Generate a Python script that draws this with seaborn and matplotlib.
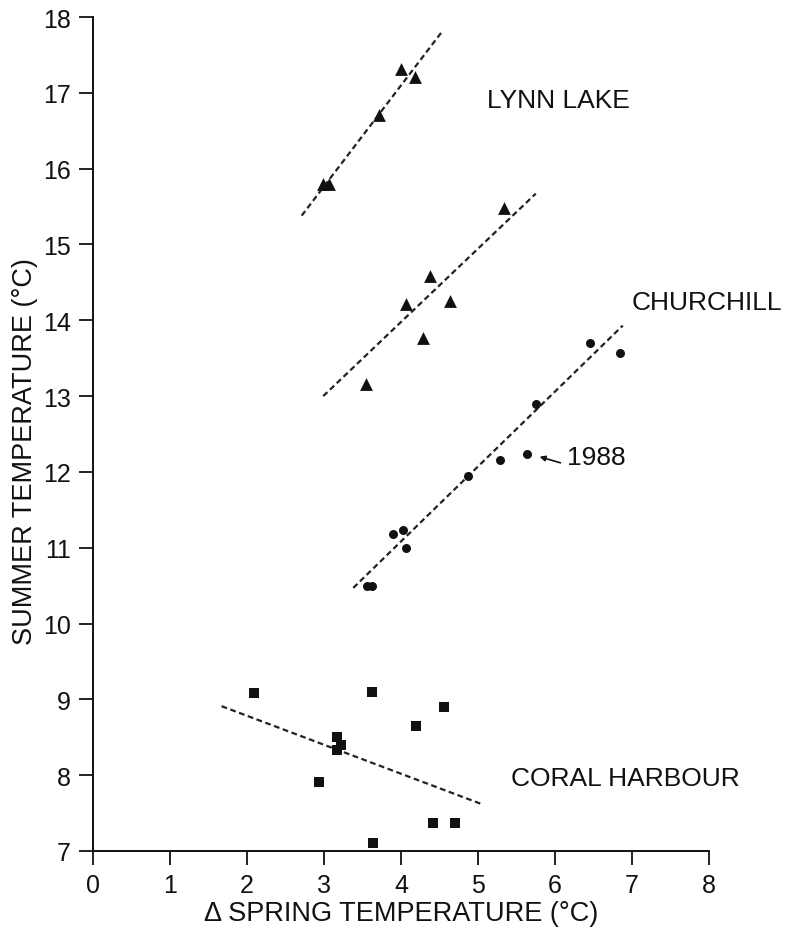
import numpy as np
import pandas as pd
import seaborn as sns
import matplotlib
matplotlib.use("Agg")
import matplotlib.pyplot as plt

# ---- data ----
lynn_x = [4.00, 4.18, 3.72, 2.99, 3.06]
lynn_y = [17.31, 17.21, 16.71, 15.80, 15.80]
mid_x = [5.34, 4.38, 4.06, 4.64, 4.29, 3.55]
mid_y = [15.48, 14.58, 14.21, 14.26, 13.76, 13.16]
church_x = [6.46, 6.85, 5.75, 5.28, 5.64, 4.87, 3.89, 4.02, 4.06, 3.56, 3.62]
church_y = [13.70, 13.57, 12.89, 12.16, 12.24, 11.95, 11.18, 11.23, 10.99, 10.49, 10.49]
coral_x = [2.09, 3.62, 4.56, 4.19, 3.17, 3.22, 3.17, 2.94, 4.41, 4.70, 3.63]
coral_y = [9.08, 9.10, 8.90, 8.65, 8.50, 8.40, 8.33, 7.91, 7.37, 7.37, 7.11]

# regression line end points
lynn_line_x = [2.71, 4.52]
lynn_line_y = [15.38, 17.79]
mid_line_x = [2.99, 5.75]
mid_line_y = [13.00, 15.67]
church_line_x = [3.38, 6.88]
church_line_y = [10.47, 13.93]
coral_line_x = [1.67, 5.07]
coral_line_y = [8.91, 7.61]

x_ticks = [0, 1, 2, 3, 4, 5, 6, 7, 8]
y_ticks = [7, 8, 9, 10, 11, 12, 13, 14, 15, 16, 17, 18]

labels = ["LYNN LAKE", "CHURCHILL", "CORAL HARBOUR"]
label_x = [5.12, 6.99, 5.43]
label_y = [16.91, 14.24, 7.96]

note_text = "1988"
note_xy = (5.80, 12.20)
note_tail = (6.07, 12.12)
note_text_xy = (6.15, 12.20)

# ---- style ----
sns.set_style("ticks")
plt.rcParams["font.family"] = ["Liberation Sans", "DejaVu Sans"]
ink = "#111111"

fig = plt.figure(figsize=(7.91, 9.28), dpi=100)
ax = fig.add_axes([93 / 791, 1 - 852 / 928, 616 / 791, 834 / 928])

groups = [
    (lynn_x, lynn_y, "^", 85),
    (mid_x, mid_y, "^", 85),
    (church_x, church_y, "o", 42),
    (coral_x, coral_y, "s", 57),
]
for gx, gy, mk, sz in groups:
    df = pd.DataFrame({"x": gx, "y": gy})
    sns.scatterplot(data=df, x="x", y="y", marker=mk, s=sz, color=ink,
                    linewidth=0, ax=ax, clip_on=False, zorder=3)

for lx, ly in [(lynn_line_x, lynn_line_y), (mid_line_x, mid_line_y),
               (church_line_x, church_line_y), (coral_line_x, coral_line_y)]:
    df = pd.DataFrame({"x": lx, "y": ly})
    sns.lineplot(data=df, x="x", y="y", color="#222222", lw=1.6,
                 linestyle=(0, (2.6, 1.6)), ax=ax, zorder=2)

for t, tx, ty in zip(labels, label_x, label_y):
    ax.text(tx, ty, t, fontsize=19, ha="left", va="center", color=ink,
            clip_on=False)

ax.annotate("", xy=note_xy, xytext=note_tail,
            arrowprops=dict(arrowstyle="-|>", lw=1.2, color=ink,
                            mutation_scale=8, shrinkA=0, shrinkB=0))
ax.text(note_text_xy[0], note_text_xy[1], note_text, fontsize=19,
        ha="left", va="center", color=ink)

ax.set_xlim(0, 8)
ax.set_ylim(7, 18)
ax.set_xticks(x_ticks)
ax.set_yticks(y_ticks)
ax.set_xticklabels([str(v) for v in x_ticks])
ax.set_yticklabels([str(v) for v in y_ticks])
ax.tick_params(axis="both", direction="out", length=10, width=1.3,
               labelsize=18, colors=ink, pad=6)
for side in ["top", "right"]:
    ax.spines[side].set_visible(False)
for side in ["left", "bottom"]:
    ax.spines[side].set_linewidth(1.4)
    ax.spines[side].set_color(ink)

ax.set_xlabel("Δ SPRING TEMPERATURE (°C)", fontsize=19.5, color=ink, labelpad=2)
ax.set_ylabel("SUMMER TEMPERATURE (°C)", fontsize=19.5, color=ink)
ax.yaxis.set_label_coords(-(93 - 38) / 616, 0.48)

fig.savefig("out.png", dpi=100, facecolor="white")
